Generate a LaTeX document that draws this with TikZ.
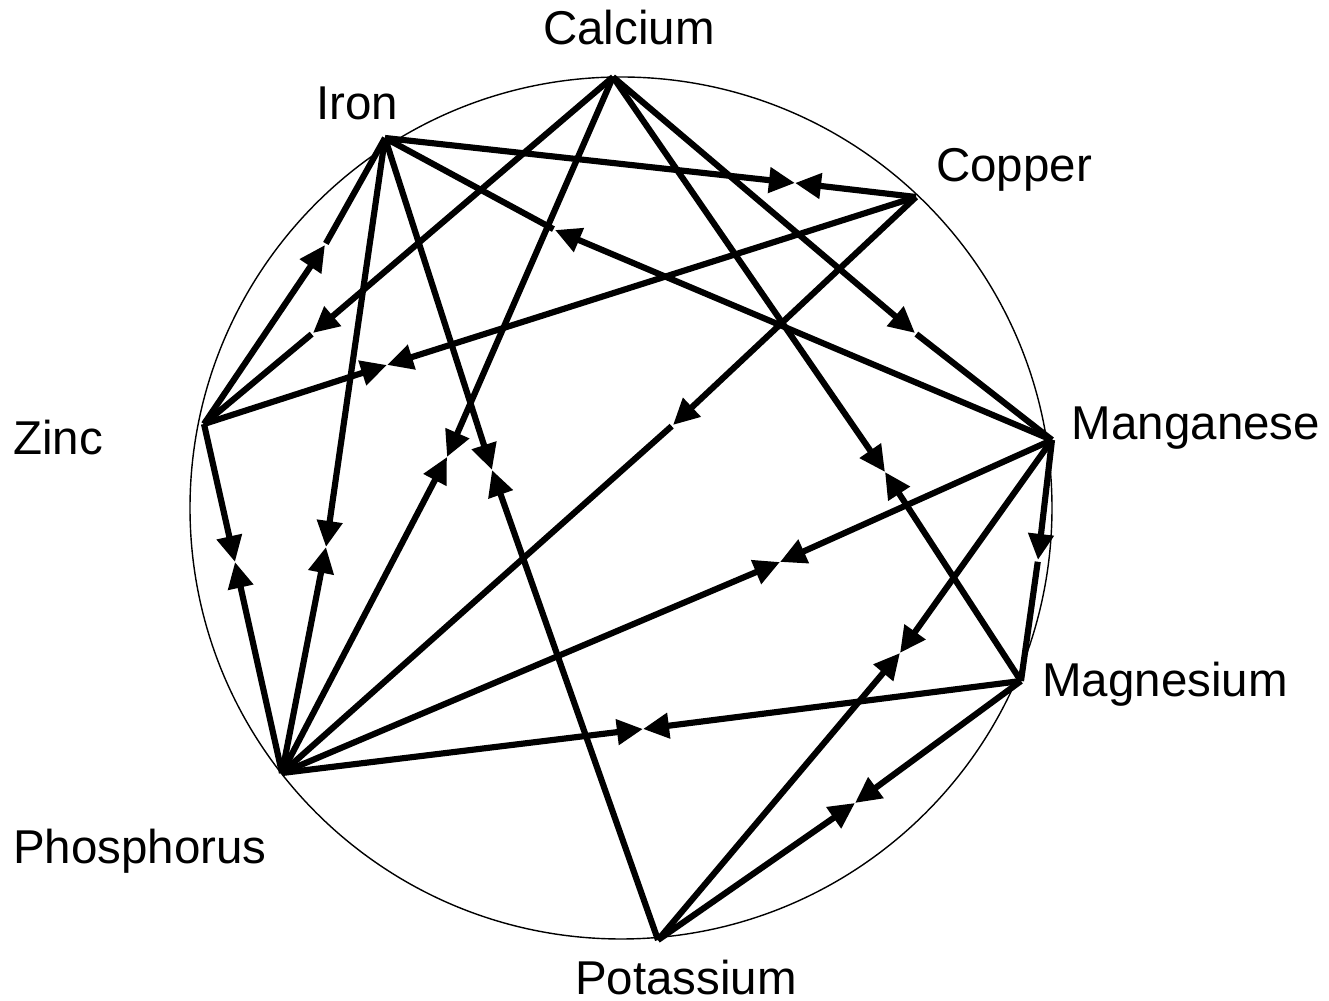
\documentclass[tikz,border=0pt]{standalone}
\usepackage{fontspec}
\setmainfont{Liberation Sans}
\usetikzlibrary{arrows.meta}
\begin{document}
\begin{tikzpicture}[x=0.01cm, y=-0.01cm,
  >={Triangle[length=7.4pt,width=7pt]},
  link/.style={line width=1.75pt},
  rest/.style={line width=1.75pt, shorten <=0.5pt},
  elem/.style={font=\fontsize{13.5}{16}\selectfont, anchor=base, inner sep=0pt}]
\useasboundingbox (0,0) rectangle (1329,1001);
\draw[line width=0.4pt] (621,508) circle [radius=431];
% points on the ring
\coordinate (ca) at (613,77);
\coordinate (fe) at (385,138);
\coordinate (cu) at (916,197);
\coordinate (zn) at (204,424);
\coordinate (mn) at (1052,440);
\coordinate (mg) at (1021,681);
\coordinate (ph) at (282,773);
\coordinate (k) at (658,940);
% names
\node[elem] (calcium) at (629,45) {Calcium};
\node[elem] (iron) at (357,120) {Iron};
\node[elem] (copper) at (1014,182) {Copper};
\node[elem] (zinc) at (58,455) {Zinc};
\node[elem] (manganese) at (1196,440) {Manganese};
\node[elem] (magnesium) at (1165,697) {Magnesium};
\node[elem] (phosphorus) at (140,864) {Phosphorus};
\node[elem] (potassium) at (686,995) {Potassium};
% arrow tips
\coordinate (cazn) at (313,333);
\coordinate (znfe) at (325,245);
\coordinate (mnfe) at (555,230);
\coordinate (camn) at (915,333);
\coordinate (cuph) at (673,425);
\coordinate (mnmg) at (1038,560);
\coordinate (zncu) at (387,365);
\coordinate (fecu) at (795,183);
\coordinate (caph) at (447,457);
\coordinate (fek) at (492,470);
\coordinate (znph) at (235,562);
\coordinate (feph) at (326,547);
\coordinate (camg) at (885,472);
\coordinate (mnph) at (780,562);
\coordinate (mnk) at (900,653);
\coordinate (mgph) at (643,729);
\coordinate (mgk) at (855,803);
% one way
\draw[link,->] (ca) -- (cazn);
\draw[rest] (cazn) -- (zn);
\draw[link,->] (zn) -- (znfe);
\draw[rest] (znfe) -- (fe);
\draw[link,->] (mn) -- (mnfe);
\draw[rest] (mnfe) -- (fe);
\draw[link,->] (ca) -- (camn);
\draw[rest] (camn) -- (mn);
\draw[link,->] (cu) -- (cuph);
\draw[rest] (cuph) -- (ph);
\draw[link,->] (mn) -- (mnmg);
\draw[rest] (mnmg) -- (mg);
% both ways
\draw[link,->] (zn) -- (zncu);
\draw[link,->] (cu) -- (zncu);
\draw[link,->] (fe) -- (fecu);
\draw[link,->] (cu) -- (fecu);
\draw[link,->] (ca) -- (caph);
\draw[link,->] (ph) -- (caph);
\draw[link,->] (fe) -- (fek);
\draw[link,->] (k) -- (fek);
\draw[link,->] (zn) -- (znph);
\draw[link,->] (ph) -- (znph);
\draw[link,->] (fe) -- (feph);
\draw[link,->] (ph) -- (feph);
\draw[link,->] (ca) -- (camg);
\draw[link,->] (mg) -- (camg);
\draw[link,->] (mn) -- (mnph);
\draw[link,->] (ph) -- (mnph);
\draw[link,->] (mn) -- (mnk);
\draw[link,->] (k) -- (mnk);
\draw[link,->] (mg) -- (mgph);
\draw[link,->] (ph) -- (mgph);
\draw[link,->] (mg) -- (mgk);
\draw[link,->] (k) -- (mgk);
\end{tikzpicture}
\end{document}
